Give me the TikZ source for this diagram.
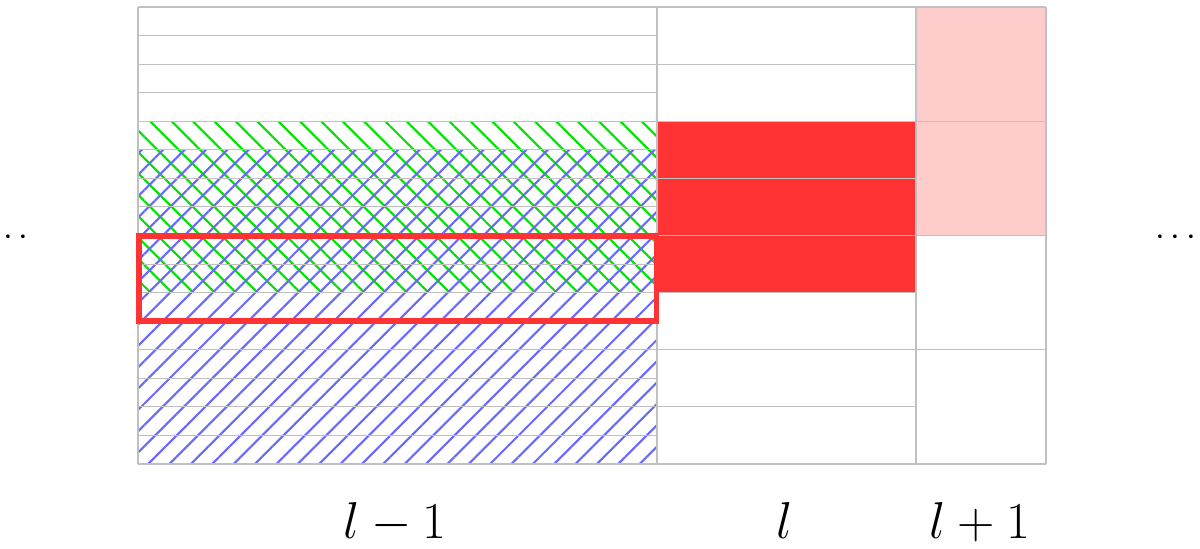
\documentclass[tikz,border=0pt]{standalone}
\usetikzlibrary{patterns.meta}
\definecolor{gridgray}{RGB}{192,192,192}
\definecolor{hatchgreen}{RGB}{0,225,0}
\definecolor{hatchblue}{RGB}{105,105,255}
\definecolor{boxred}{RGB}{255,51,51}
\definecolor{pinkfill}{RGB}{255,204,204}
\newcommand{\biglabel}[1]{\scalebox{1.186}{\Huge$#1$}}
\newcommand{\dotlabel}{\scalebox{1.15}{\LARGE$\cdots$}}
\begin{document}
\begin{tikzpicture}[x=0.02cm,y=0.02cm,
  gridline/.style={draw=gridgray,line width=0.6pt},
  greenhatch/.style={pattern={Lines[angle=-45,distance=8.6pt,line width=1.2pt]},pattern color=hatchgreen},
  bluehatch/.style={pattern={Lines[angle=45,distance=8.6pt,line width=1.2pt]},pattern color=hatchblue},
  redbox/.style={draw=boxred,line width=3.4pt},
  collabel/.style={anchor=base,inner sep=0pt},
  dotslabel/.style={anchor=base,inner sep=0pt}]
\useasboundingbox (0,0) rectangle (1200,-548);
% fills
\fill[pinkfill] (916,-7) rectangle (1046,-235.5);
\fill[boxred] (657,-121.25) rectangle (916,-292.625);
\fill[greenhatch] (138,-121.25) rectangle (657,-292.625);
\fill[bluehatch] (138,-149.8125) rectangle (657,-464);
% grid
\foreach \i in {0,...,16} \draw[gridline] (138,{-(7+\i*28.5625)}) -- (657,{-(7+\i*28.5625)});
\foreach \i in {0,...,8} \draw[gridline] (657,{-(7+\i*57.125)}) -- (916,{-(7+\i*57.125)});
\foreach \i in {0,...,4} \draw[gridline] (916,{-(7+\i*114.25)}) -- (1046,{-(7+\i*114.25)});
\foreach \x in {138,657,916,1046} \draw[gridline] (\x,-7) -- (\x,-464);
% highlighted box
\draw[redbox] (139,-236) rectangle (656.5,-321);
% labels
\node[collabel] (lm1) at (395,-538) {\biglabel{l-1}};
\node[collabel] (l0) at (785,-538) {\biglabel{l}};
\node[collabel] (lp1) at (980,-538) {\biglabel{l+1}};
\node[dotslabel] (dl) at (8.3,-245) {\dotlabel};
\node[dotslabel] (dr) at (1175.7,-245) {\dotlabel};
\end{tikzpicture}
\end{document}
